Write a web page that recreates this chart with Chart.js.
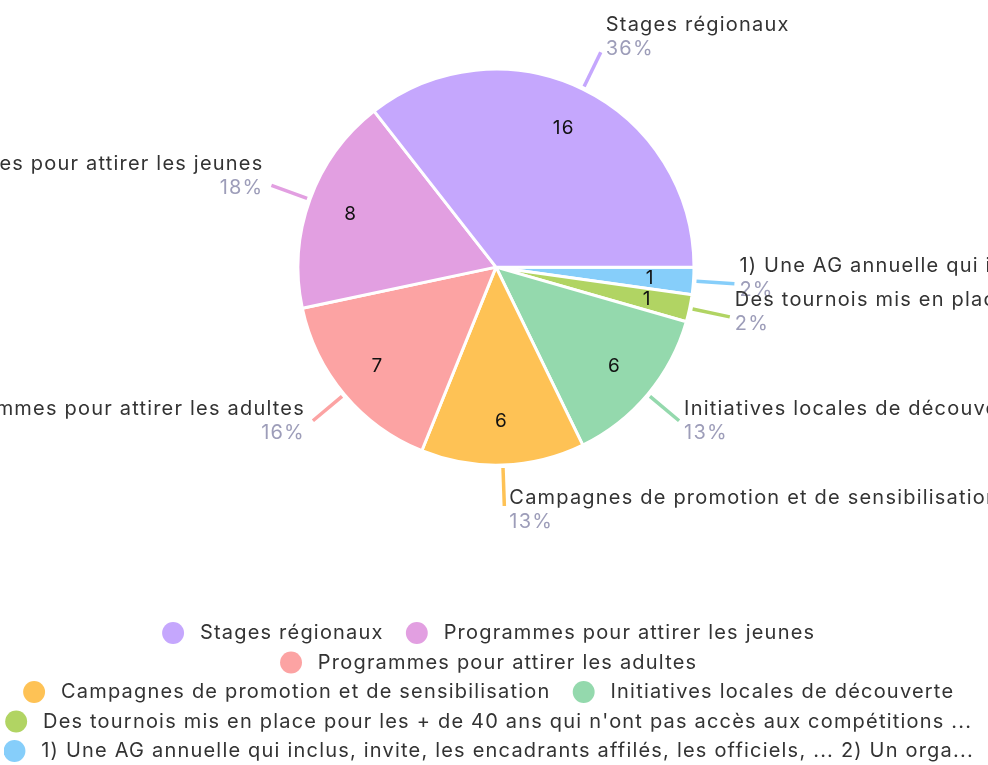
<!DOCTYPE html>
<html>
<head>
<meta charset="utf-8">
<script src="https://cdn.jsdelivr.net/npm/chart.js@4.4.0/dist/chart.umd.min.js"></script>
<style>
  html, body { margin: 0; padding: 0; background: #fff; }
  canvas { display: block; }
</style>
</head>
<body>
<canvas id="pieChart" width="988" height="765"></canvas>
<script>
// categories, in legend order
const categories = [
    'Stages régionaux',
    'Programmes pour attirer les jeunes',
    'Programmes pour attirer les adultes',
    'Campagnes de promotion et de sensibilisation',
    'Initiatives locales de découverte',
    "Des tournois mis en place pour les + de 40 ans qui n'ont pas accès aux compétitions ...",
    '1) Une AG annuelle qui inclus, invite, les encadrants affilés, les officiels, ... 2) Un orga...'
];
const counts = [16, 8, 7, 6, 6, 1, 1];
const colors = ['#c5a7fd', '#e29fe1', '#fca3a3', '#fec255', '#94d9ad', '#b1d463', '#86cefa'];

const FONT = 'Inter, "Open Sans", sans-serif';
const SPACING = '1.2px';

// the reference goes round counter-clockwise, so feed the pie reversed
const pieLabels = categories.slice().reverse();
const pieData = counts.slice().reverse();
const pieColors = colors.slice().reverse();
const total = counts.reduce((a, b) => a + b, 0);

// a bit of letter spacing on everything the chart writes
const tracking = {
    id: 'tracking',
    beforeLayout(chart) { chart.ctx.letterSpacing = SPACING; },
    beforeDraw(chart) { chart.ctx.letterSpacing = SPACING; }
};

// outside labels + values inside slices
const sliceLabels = {
    id: 'sliceLabels',
    afterDatasetsDraw(chart) {
        const ctx = chart.ctx;
        const meta = chart.getDatasetMeta(0);
        ctx.save();
        ctx.letterSpacing = SPACING;
        meta.data.forEach((arc, i) => {
            const p = arc.getProps(['x', 'y', 'startAngle', 'endAngle', 'outerRadius'], true);
            const mid = (p.startAngle + p.endAngle) / 2;
            const c = Math.cos(mid), s = Math.sin(mid);
            const r = 197;

            // value inside
            ctx.fillStyle = '#111';
            ctx.font = '19px ' + FONT;
            ctx.textAlign = 'center';
            ctx.textBaseline = 'middle';
            ctx.fillText(String(pieData[i]), p.x + c * r * 0.785, p.y + s * r * 0.785);

            // leader line
            const x1 = p.x + c * (r + 4), y1 = p.y + s * (r + 4);
            const x2 = p.x + c * (r + 42), y2 = p.y + s * (r + 42);
            ctx.strokeStyle = pieColors[i];
            ctx.lineWidth = 3.5;
            ctx.beginPath();
            ctx.moveTo(x1, y1);
            ctx.lineTo(x2, y2);
            ctx.stroke();

            // name + percent
            const middle = y2 - 6.5 + 10 * s;
            const right = c >= 0;
            const tx = right ? x2 + 5 : x2 - 8;
            ctx.textAlign = right ? 'left' : 'right';
            ctx.font = '20px ' + FONT;
            ctx.fillStyle = '#333333';
            ctx.fillText(pieLabels[i], tx, middle - 12);
            ctx.fillStyle = '#9d9db9';
            ctx.fillText(Math.round(pieData[i] / total * 100) + '%', tx, middle + 12);
        });
        ctx.restore();
    }
};

const ctx = document.getElementById('pieChart').getContext('2d');
const chart = new Chart(ctx, {
    type: 'pie',
    data: {
        labels: pieLabels,
        datasets: [{
            data: pieData,
            backgroundColor: pieColors,
            borderColor: '#ffffff',
            borderWidth: 3,
            radius: 198
        }]
    },
    options: {
        responsive: false,
        animation: false,
        rotation: 90,
        layout: { padding: { left: 4, top: 0, bottom: -6 } },
        plugins: {
            tooltip: { enabled: false },
            // empty title used as a spacer between pie and legend
            title: {
                display: true,
                text: ' ',
                position: 'bottom',
                weight: 500,
                font: { size: 1 },
                padding: { top: 78, bottom: 0 }
            },
            legend: {
                position: 'bottom',
                reverse: true,
                labels: {
                    usePointStyle: true,
                    pointStyle: 'circle',
                    boxWidth: 20,
                    boxHeight: 15.5,
                    padding: 9.5,
                    color: '#333333',
                    font: { family: FONT, size: 20 },
                    generateLabels(chart) {
                        const items = Chart.overrides.pie.plugins.legend.labels.generateLabels(chart);
                        // wider gaps around each entry, as in the reference
                        items.forEach(it => {
                            it.lineWidth = 0;
                            it.strokeStyle = it.fillStyle;
                            it.text = ' ' + it.text + '  ';
                        });
                        return items;
                    }
                }
            }
        }
    },
    plugins: [tracking, sliceLabels]
});
</script>
</body>
</html>
